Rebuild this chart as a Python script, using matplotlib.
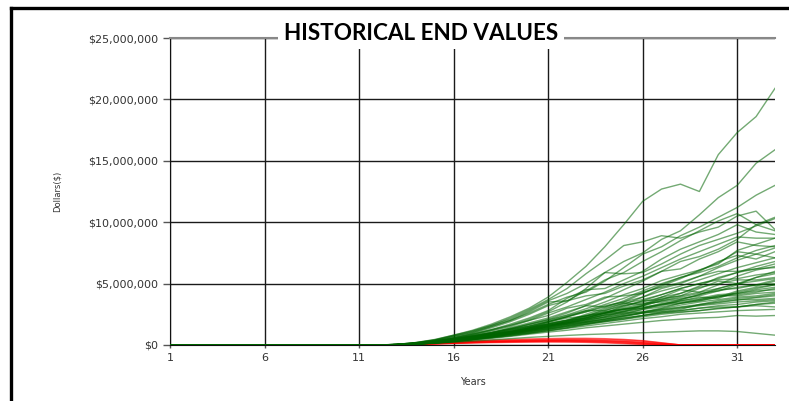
import matplotlib.pyplot as plt
import matplotlib as mpl
from matplotlib.lines import Line2D
from matplotlib.ticker import FuncFormatter
import numpy as np

mpl.rcParams['font.family'] = 'DejaVu Sans'

######################################################################
# Portfolio end values ($ millions) per historical start year

years = list(range(1, 34))
y_ticks = [0, 5, 10, 15, 20, 25]
x_ticks = [1, 6, 11, 16, 21, 26, 31]

# years 1-12: nothing invested yet
flat_start = [0.0] * 12

# years 13..33, surviving sequences
green_runs = [
    [0.05, 0.20, 0.45, 0.80, 1.20, 1.70, 2.30, 3.00, 3.90, 5.10, 6.40, 8.00, 9.80, 11.7, 12.7, 13.1, 12.5, 15.5, 17.3, 18.6, 20.9],
    [0.05, 0.18, 0.40, 0.75, 1.10, 1.60, 2.10, 2.80, 3.60, 4.20, 5.00, 5.90, 6.80, 7.50, 8.60, 9.30, 10.6, 12.0, 13.0, 14.8, 15.9],
    [0.04, 0.15, 0.35, 0.70, 1.00, 1.50, 2.00, 2.60, 3.30, 3.90, 4.30, 5.20, 6.30, 7.40, 8.00, 8.90, 9.60, 10.4, 11.2, 12.2, 13.0],
    [0.05, 0.20, 0.42, 0.80, 1.15, 1.60, 2.20, 2.90, 3.70, 4.60, 5.80, 6.90, 8.10, 8.40, 8.90, 8.70, 9.20, 9.60, 10.5, 10.9, 9.40],
    [0.04, 0.15, 0.30, 0.60, 0.95, 1.40, 1.90, 2.50, 3.20, 3.60, 4.40, 5.30, 5.90, 6.80, 7.60, 8.50, 9.30, 10.1, 10.7, 9.80, 10.4],
    [0.04, 0.14, 0.30, 0.55, 0.85, 1.25, 1.70, 2.20, 2.80, 3.80, 4.50, 4.60, 5.30, 6.00, 7.00, 7.80, 8.40, 9.00, 9.80, 9.20, 9.00],
    [0.03, 0.12, 0.28, 0.50, 0.80, 1.15, 1.50, 2.00, 2.60, 3.10, 3.70, 4.30, 5.00, 5.60, 6.30, 7.00, 7.60, 8.20, 8.80, 8.70, 8.70],
    [0.05, 0.18, 0.38, 0.70, 1.05, 1.50, 2.00, 2.70, 3.50, 3.60, 4.00, 4.20, 4.80, 5.30, 6.00, 6.20, 7.00, 7.60, 8.40, 8.10, 8.00],
    [0.04, 0.14, 0.30, 0.52, 0.78, 1.05, 1.35, 1.70, 2.05, 2.45, 2.95, 3.50, 4.10, 4.60, 5.25, 5.70, 6.10, 6.70, 7.60, 7.40, 7.10],
    [0.03, 0.12, 0.25, 0.45, 0.68, 0.95, 1.25, 1.55, 1.90, 2.30, 2.70, 3.10, 3.60, 4.30, 4.70, 5.10, 5.60, 6.00, 6.00, 6.20, 6.30],
    [0.03, 0.11, 0.24, 0.42, 0.63, 0.88, 1.15, 1.45, 1.80, 2.00, 2.50, 3.00, 3.40, 3.70, 4.10, 4.60, 5.00, 5.30, 5.40, 5.70, 5.90],
    [0.03, 0.10, 0.22, 0.40, 0.60, 0.85, 1.10, 1.40, 1.70, 2.05, 2.40, 2.80, 3.20, 3.50, 3.90, 4.20, 4.70, 5.00, 5.30, 5.30, 5.50],
    [0.03, 0.10, 0.22, 0.38, 0.57, 0.80, 1.05, 1.30, 1.60, 1.90, 2.25, 2.60, 2.90, 3.20, 3.60, 3.90, 4.20, 4.40, 4.70, 4.90, 5.00],
    [0.02, 0.09, 0.20, 0.35, 0.53, 0.74, 0.97, 1.22, 1.50, 1.80, 2.10, 2.40, 2.70, 3.00, 3.30, 3.60, 3.80, 4.10, 4.20, 4.40, 4.50],
    [0.02, 0.09, 0.19, 0.33, 0.50, 0.70, 0.92, 1.15, 1.40, 1.65, 1.90, 2.20, 2.50, 2.70, 2.90, 3.10, 3.30, 3.50, 3.70, 3.70, 3.80],
    [0.02, 0.08, 0.18, 0.32, 0.48, 0.67, 0.88, 1.10, 1.35, 1.60, 1.85, 2.10, 2.35, 2.60, 2.80, 3.00, 3.20, 3.35, 3.50, 3.60, 3.70],
    [0.02, 0.08, 0.17, 0.30, 0.45, 0.63, 0.83, 1.05, 1.28, 1.50, 1.75, 1.95, 2.20, 2.40, 2.60, 2.80, 3.00, 3.10, 3.10, 3.30, 3.40],
    [0.02, 0.07, 0.16, 0.28, 0.42, 0.58, 0.76, 0.95, 1.15, 1.35, 1.55, 1.75, 1.95, 2.15, 2.30, 2.50, 2.60, 2.70, 2.80, 2.85, 2.90],
    [0.02, 0.07, 0.15, 0.26, 0.39, 0.54, 0.70, 0.88, 1.05, 1.20, 1.40, 1.55, 1.70, 1.85, 2.00, 2.10, 2.20, 2.25, 2.40, 2.35, 2.40],
    [0.02, 0.06, 0.13, 0.22, 0.32, 0.42, 0.52, 0.62, 0.70, 0.78, 0.85, 0.90, 0.95, 1.00, 1.05, 1.10, 1.15, 1.15, 1.10, 0.95, 0.80],
    [0.03, 0.12, 0.26, 0.45, 0.70, 0.95, 1.10, 1.40, 1.85, 2.20, 2.35, 2.90, 3.40, 3.30, 3.90, 4.50, 4.30, 4.90, 5.60, 6.10, 6.40],
    [0.03, 0.10, 0.20, 0.38, 0.55, 0.80, 1.05, 1.20, 1.50, 1.95, 2.40, 2.60, 2.70, 3.20, 3.80, 4.00, 4.60, 5.20, 5.00, 5.50, 5.80],
    [0.02, 0.09, 0.21, 0.40, 0.62, 0.80, 1.00, 1.35, 1.60, 1.80, 2.10, 2.50, 3.00, 3.40, 3.50, 3.70, 4.10, 4.60, 5.00, 4.80, 5.20],
    [0.02, 0.09, 0.20, 0.35, 0.50, 0.72, 0.98, 1.30, 1.55, 1.70, 1.95, 2.30, 2.75, 3.00, 3.20, 3.60, 3.90, 3.80, 4.30, 4.60, 4.90],
    [0.03, 0.11, 0.24, 0.42, 0.66, 0.90, 1.20, 1.50, 1.70, 1.90, 2.30, 2.70, 2.90, 3.00, 3.40, 3.50, 3.70, 4.00, 4.00, 4.20, 4.30],
    [0.02, 0.08, 0.18, 0.32, 0.46, 0.66, 0.86, 1.00, 1.25, 1.50, 1.70, 2.00, 2.30, 2.60, 2.70, 2.90, 3.30, 3.60, 3.80, 3.90, 4.10],
    [0.02, 0.07, 0.16, 0.30, 0.45, 0.60, 0.75, 0.95, 1.15, 1.40, 1.70, 1.90, 2.10, 2.40, 2.70, 2.80, 3.00, 3.20, 3.30, 3.50, 3.60],
    [0.03, 0.12, 0.27, 0.48, 0.72, 1.00, 1.30, 1.55, 1.90, 2.30, 2.70, 3.20, 3.50, 3.90, 4.40, 4.80, 5.30, 5.80, 6.30, 6.70, 7.10],
    [0.02, 0.10, 0.22, 0.40, 0.58, 0.82, 1.10, 1.40, 1.65, 1.80, 2.20, 2.60, 2.90, 3.30, 3.70, 4.00, 4.30, 4.60, 5.00, 5.20, 5.40],
    [0.03, 0.11, 0.23, 0.40, 0.60, 0.80, 1.05, 1.25, 1.50, 1.80, 2.00, 2.30, 2.60, 2.70, 3.00, 3.40, 3.60, 3.90, 4.20, 4.50, 4.70],
    [0.02, 0.08, 0.18, 0.33, 0.50, 0.70, 0.90, 1.10, 1.30, 1.55, 1.80, 2.00, 2.20, 2.40, 2.60, 2.70, 2.80, 3.00, 3.10, 3.20, 3.10],
    [0.02, 0.09, 0.19, 0.34, 0.52, 0.74, 1.00, 1.20, 1.40, 1.70, 2.05, 2.45, 2.60, 2.90, 3.10, 3.40, 3.70, 4.00, 4.10, 4.30, 4.60],
    [0.03, 0.10, 0.22, 0.38, 0.56, 0.78, 1.00, 1.30, 1.60, 1.90, 2.20, 2.60, 3.10, 3.60, 4.10, 4.60, 5.00, 5.40, 5.90, 6.40, 6.80],
    [0.02, 0.08, 0.17, 0.30, 0.45, 0.62, 0.80, 0.98, 1.20, 1.40, 1.65, 1.90, 2.10, 2.30, 2.50, 2.65, 2.80, 2.95, 3.10, 3.30, 3.50],
    [0.04, 0.16, 0.34, 0.60, 0.90, 1.25, 1.60, 2.00, 2.40, 3.00, 3.30, 3.90, 4.00, 4.20, 4.90, 5.50, 5.90, 6.40, 7.10, 7.70, 8.10],
    [0.03, 0.13, 0.28, 0.50, 0.75, 1.00, 1.40, 1.80, 2.20, 2.70, 3.20, 3.10, 3.50, 4.20, 4.80, 5.40, 6.10, 6.60, 7.70, 8.20, 8.70],
    [0.04, 0.15, 0.32, 0.58, 0.88, 1.20, 1.60, 2.10, 2.70, 3.50, 4.60, 5.90, 5.80, 5.90, 6.60, 7.40, 8.10, 8.60, 9.10, 9.70, 10.3],
    [0.03, 0.12, 0.26, 0.46, 0.70, 0.98, 1.30, 1.70, 2.10, 2.60, 3.20, 3.80, 4.50, 5.20, 6.00, 6.80, 7.20, 7.80, 8.60, 9.80, 9.30],
    [0.03, 0.11, 0.24, 0.42, 0.64, 0.90, 1.20, 1.50, 1.90, 2.30, 2.80, 2.80, 3.30, 3.90, 4.60, 5.00, 5.60, 6.30, 6.90, 7.40, 7.90],
    [0.02, 0.10, 0.21, 0.37, 0.56, 0.79, 1.05, 1.35, 1.70, 2.00, 2.20, 2.60, 3.20, 3.60, 3.70, 4.20, 4.80, 5.50, 5.90, 6.20, 6.60],
    [0.02, 0.09, 0.20, 0.36, 0.54, 0.76, 1.00, 1.25, 1.55, 1.85, 2.15, 2.45, 2.80, 3.20, 3.60, 3.80, 4.00, 4.40, 4.90, 5.50, 6.00],
    [0.03, 0.10, 0.22, 0.39, 0.58, 0.82, 1.08, 1.38, 1.70, 2.00, 2.35, 2.70, 2.95, 3.10, 3.30, 3.70, 4.10, 4.50, 4.60, 4.90, 5.30],
    [0.02, 0.08, 0.18, 0.32, 0.49, 0.69, 0.92, 1.16, 1.44, 1.75, 2.05, 2.25, 2.50, 2.90, 3.30, 3.40, 3.60, 3.90, 4.40, 4.70, 4.90],
    [0.02, 0.09, 0.19, 0.34, 0.51, 0.71, 0.95, 1.20, 1.45, 1.70, 1.90, 2.10, 2.40, 2.65, 2.95, 3.25, 3.50, 3.70, 3.90, 4.00, 4.20],
    [0.03, 0.12, 0.26, 0.47, 0.71, 0.99, 1.30, 1.65, 2.00, 2.40, 2.80, 3.30, 3.80, 4.40, 5.00, 5.50, 6.00, 6.80, 7.30, 7.00, 7.60],
    [0.02, 0.08, 0.17, 0.31, 0.47, 0.66, 0.87, 1.09, 1.33, 1.58, 1.84, 2.10, 2.38, 2.62, 2.85, 3.05, 3.25, 3.45, 3.65, 3.85, 4.00],
]

# years 13..33, sequences that ran out of money
red_runs = [
    [0.02, 0.08, 0.15, 0.23, 0.31, 0.38, 0.44, 0.49, 0.52, 0.54, 0.54, 0.51, 0.45, 0.35, 0.18, 0.0, 0.0, 0.0, 0.0, 0.0, 0.0],
    [0.02, 0.07, 0.13, 0.20, 0.27, 0.33, 0.38, 0.42, 0.45, 0.47, 0.47, 0.45, 0.40, 0.32, 0.15, 0.0, 0.0, 0.0, 0.0, 0.0, 0.0],
    [0.02, 0.06, 0.12, 0.18, 0.24, 0.29, 0.33, 0.36, 0.38, 0.39, 0.38, 0.35, 0.30, 0.22, 0.10, 0.0, 0.0, 0.0, 0.0, 0.0, 0.0],
    [0.02, 0.06, 0.11, 0.16, 0.21, 0.25, 0.28, 0.30, 0.32, 0.32, 0.30, 0.27, 0.22, 0.14, 0.03, 0.0, 0.0, 0.0, 0.0, 0.0, 0.0],
    [0.02, 0.05, 0.10, 0.15, 0.19, 0.23, 0.26, 0.28, 0.29, 0.29, 0.27, 0.23, 0.16, 0.08, 0.0, 0.0, 0.0, 0.0, 0.0, 0.0, 0.0],
    [0.01, 0.05, 0.09, 0.13, 0.17, 0.20, 0.22, 0.24, 0.25, 0.24, 0.22, 0.18, 0.12, 0.05, 0.0, 0.0, 0.0, 0.0, 0.0, 0.0, 0.0],
    [0.02, 0.06, 0.12, 0.17, 0.22, 0.27, 0.31, 0.35, 0.37, 0.38, 0.37, 0.34, 0.28, 0.18, 0.05, 0.0, 0.0, 0.0, 0.0, 0.0, 0.0],
]

######################################################################


def dollars(v, pos):
    return "${:,.0f}".format(v * 1e6)


def make_plot():
    fig = plt.figure(figsize=(7.89, 4.01), dpi=100)
    ax = fig.add_axes([170 / 789, 1 - 345 / 401, 605 / 789, 307 / 401])

    for run in red_runs:
        ax.plot(years, flat_start + run, color="#ff0000", linewidth=1.1, alpha=0.6, zorder=3)
    for run in green_runs:
        ax.plot(years, flat_start + run, color="#006400", linewidth=1.0, alpha=0.55, zorder=4)

    ax.set_xlim(1, 33)
    ax.set_ylim(0, 25)
    ax.set_xticks(x_ticks)
    ax.set_yticks(y_ticks)
    ax.yaxis.set_major_formatter(FuncFormatter(dollars))
    ax.grid(True, color="#1a1a1a", linewidth=1.0, zorder=1)
    ax.set_axisbelow(True)

    ax.tick_params(axis="y", length=5, width=1, color="#555555", pad=3.5,
                   labelsize=8, labelcolor="#333333")
    ax.tick_params(axis="x", length=2, width=1, color="#555555", pad=4,
                   labelsize=8, labelcolor="#333333")

    ax.spines["right"].set_visible(False)
    ax.spines["top"].set_color("#888888")
    ax.spines["top"].set_linewidth(1.5)
    ax.spines["left"].set_color("#111111")
    ax.spines["bottom"].set_color("#111111")

    ax.set_xlabel("Years", fontsize=7, color="#333333")
    ax.xaxis.set_label_coords(0.5, -0.105)
    ax.set_ylabel("Dollars($)", fontsize=6, color="#333333")
    ax.yaxis.set_label_coords((62 - 170) / 605, 0.5)

    fig.text(421 / 789, 1 - 33 / 401, "HISTORICAL END VALUES", fontsize=16.2,
             fontweight="bold", family="Lato", ha="center", va="center",
             bbox=dict(facecolor="white", edgecolor="none", pad=4), zorder=10)

    # outer frame, only the left and top edges fall inside the image
    fig.add_artist(Line2D([11 / 789, 11 / 789], [0, 1 - 7.5 / 401], color="black",
                          linewidth=2.4, solid_capstyle="projecting"))
    fig.add_artist(Line2D([11 / 789, 1], [1 - 7.5 / 401, 1 - 7.5 / 401], color="black",
                          linewidth=2.4, solid_capstyle="projecting"))

    plt.savefig("out.png", dpi=100)


if __name__ == '__main__':
    make_plot()
